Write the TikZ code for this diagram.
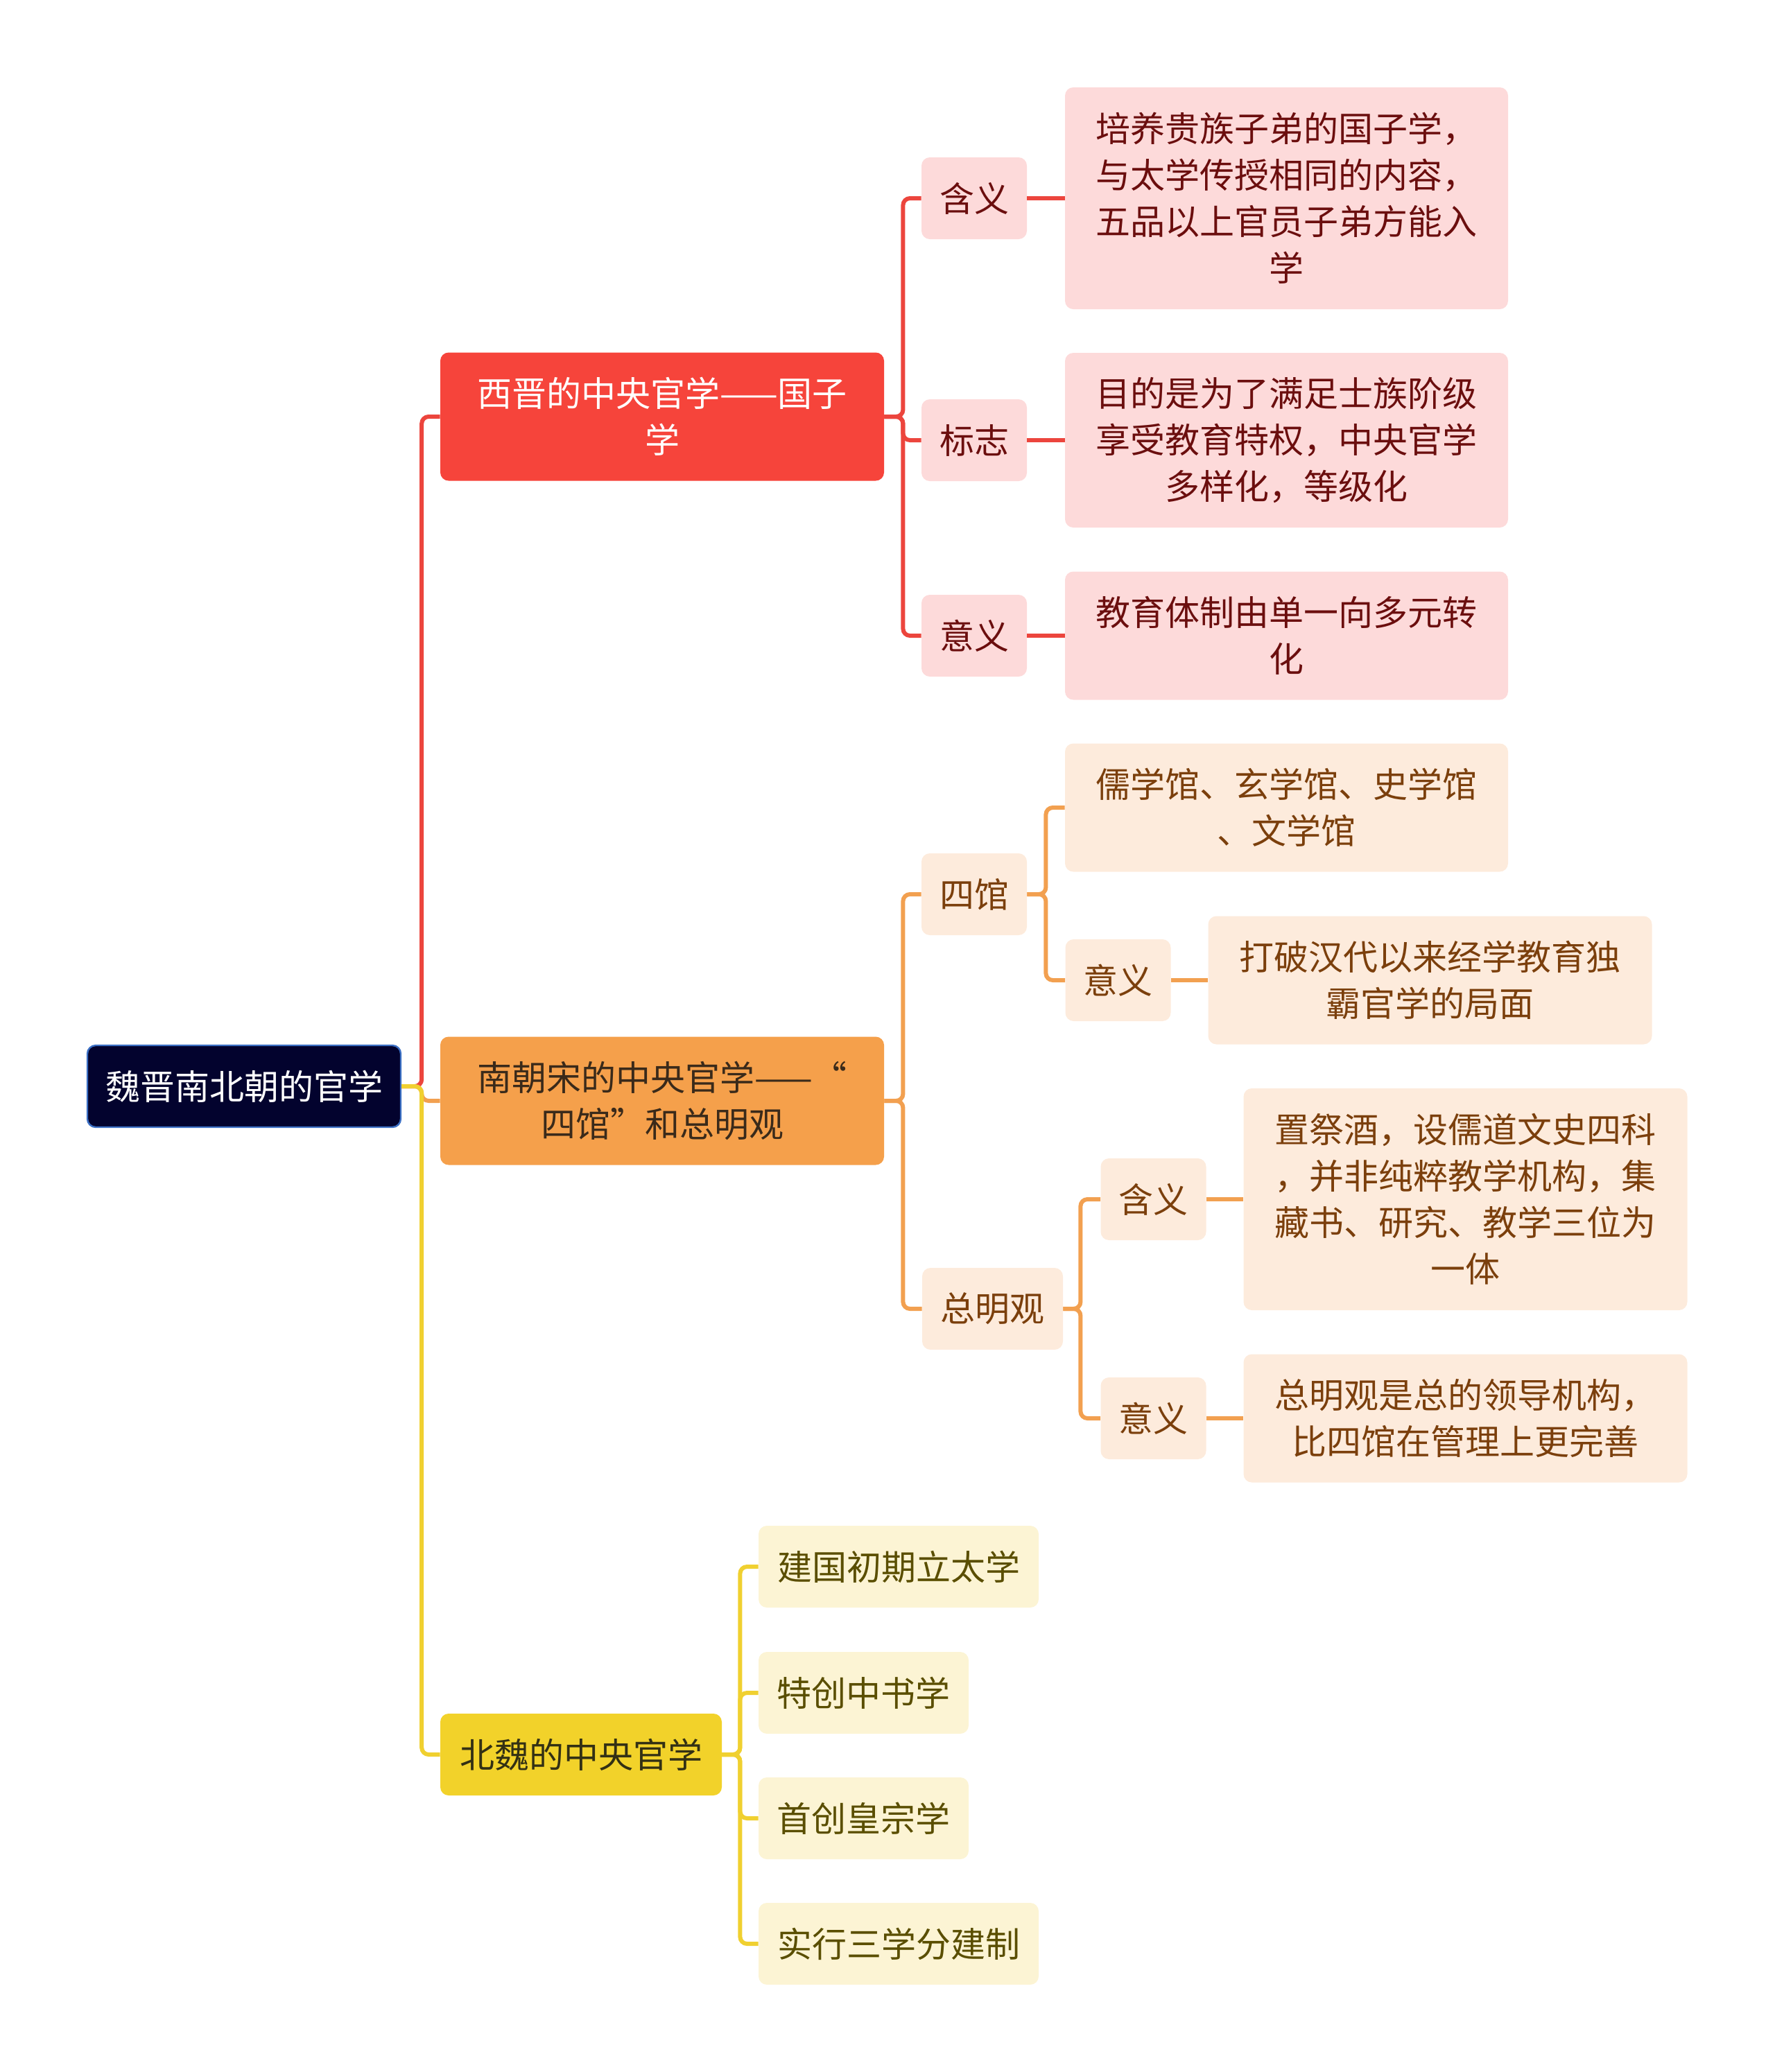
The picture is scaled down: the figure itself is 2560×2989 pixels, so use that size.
\documentclass[tikz,border=0pt]{standalone}
\usepackage{fontspec}
\newfontfamily\cjk{Noto Sans CJK SC}
\definecolor{RootFill}{HTML}{03032E}
\definecolor{RootEdge}{HTML}{3B6FC4}
\definecolor{XjMain}{HTML}{F6443B}
\definecolor{XjLine}{HTML}{EC453D}
\definecolor{XjLeaf}{HTML}{FDDADA}
\definecolor{XjText}{HTML}{6B0E0E}
\definecolor{NcMain}{HTML}{F5A04B}
\definecolor{NcLine}{HTML}{F2A050}
\definecolor{NcLeaf}{HTML}{FDEBDC}
\definecolor{NcText}{HTML}{7B3F0C}
\definecolor{NcDark}{HTML}{3A2A1A}
\definecolor{BwMain}{HTML}{F2D22A}
\definecolor{BwLine}{HTML}{F0D030}
\definecolor{BwLeaf}{HTML}{FCF4D4}
\definecolor{BwText}{HTML}{5A4E00}
\definecolor{BwDark}{HTML}{333014}

\begin{document}
\begin{tikzpicture}[x=0.5pt,y=-0.5pt,
  box/.style={rounded corners=6pt,align=center,inner sep=0pt,
    font={\cjk\fontsize{25}{33.5}\selectfont}},
  rootbox/.style={box,fill=RootFill,draw=RootEdge,line width=1.2pt,text=white,
    minimum width=226pt,minimum height=59pt},
  xjbox/.style={box,fill=XjLeaf,text=XjText},
  ncbox/.style={box,fill=NcLeaf,text=NcText},
  bwbox/.style={box,fill=BwLeaf,text=BwText},
  small/.style={minimum width=76pt,minimum height=59pt},
  xjline/.style={draw=XjLine,line width=3pt,rounded corners=5pt},
  ncline/.style={draw=NcLine,line width=3pt,rounded corners=5pt},
  bwline/.style={draw=BwLine,line width=3pt,rounded corners=5pt}]
\useasboundingbox (0,0) rectangle (2560,2989);

\node[rootbox] (root) at (352,1567) {魏晋南北朝的官学};

% 西晋
\node[box,fill=XjMain,text=white,minimum width=320pt,minimum height=92.5pt] (xijin) at (955,601) {西晋的中央官学——国子\\学};
\node[xjbox,small] (xjHanyi) at (1405,286) {含义};
\node[xjbox,small] (xjBiaozhi) at (1405,635) {标志};
\node[xjbox,small] (xjYiyi) at (1405,917) {意义};
\node[xjbox,minimum width=319.5pt,minimum height=160pt] (xjHanyiT) at (1855.5,286) {培养贵族子弟的国子学，\\与太学传授相同的内容，\\五品以上官员子弟方能入\\学};
\node[xjbox,minimum width=319.5pt,minimum height=126pt] (xjBiaozhiT) at (1855.5,635) {目的是为了满足士族阶级\\享受教育特权，中央官学\\多样化，等级化};
\node[xjbox,minimum width=319.5pt,minimum height=92.5pt] (xjYiyiT) at (1855.5,917) {教育体制由单一向多元转\\化};

% 南朝宋
\node[box,fill=NcMain,text=NcDark,minimum width=320pt,minimum height=92.5pt] (nanchao) at (955,1588) {南朝宋的中央官学——“\\四馆”和总明观};
\node[ncbox,small] (ncSiguan) at (1405,1290) {四馆};
\node[ncbox,minimum width=101.5pt,minimum height=59pt] (ncZmg) at (1431.5,1888) {总明观};
\node[ncbox,minimum width=319.5pt,minimum height=92.5pt] (ncSiguanT) at (1855.5,1165) {儒学馆、玄学馆、史学馆\\、文学馆};
\node[ncbox,small] (ncSgYiyi) at (1612.5,1414) {意义};
\node[ncbox,minimum width=320pt,minimum height=92.5pt] (ncSgYiyiT) at (2062.5,1414) {打破汉代以来经学教育独\\霸官学的局面};
\node[ncbox,small] (ncZmHanyi) at (1663.5,1730) {含义};
\node[ncbox,minimum width=320pt,minimum height=160pt] (ncZmHanyiT) at (2113.5,1730) {置祭酒，设儒道文史四科\\，并非纯粹教学机构，集\\藏书、研究、教学三位为\\一体};
\node[ncbox,small] (ncZmYiyi) at (1663.5,2046) {意义};
\node[ncbox,minimum width=320pt,minimum height=92.5pt] (ncZmYiyiT) at (2113.5,2046) {总明观是总的领导机构，\\比四馆在管理上更完善};

% 北魏
\node[box,fill=BwMain,text=BwDark,minimum width=203pt,minimum height=59pt] (beiwei) at (838,2531) {北魏的中央官学};
\node[bwbox,minimum width=202pt,minimum height=59pt] (bwTaixue) at (1296,2260) {建国初期立太学};
\node[bwbox,minimum width=151.5pt,minimum height=59pt] (bwZhongshu) at (1245.5,2442) {特创中书学};
\node[bwbox,minimum width=151.5pt,minimum height=59pt] (bwHuangzong) at (1245.5,2623) {首创皇宗学};
\node[bwbox,minimum width=202pt,minimum height=59pt] (bwSanxue) at (1296,2804) {实行三学分建制};

\draw[xjline] (root.east) -- ++(29,0) |- (xijin.west);
\draw[ncline] (root.east) -- ++(29,0) |- (nanchao.west);
\draw[bwline] (root.east) -- ++(29,0) |- (beiwei.west);

\foreach \c in {xjHanyi,xjBiaozhi,xjYiyi}
  \draw[xjline] (xijin.east) -- ++(27,0) |- (\c.west);
\draw[xjline] (xjHanyi.east) -- (xjHanyiT.west);
\draw[xjline] (xjBiaozhi.east) -- (xjBiaozhiT.west);
\draw[xjline] (xjYiyi.east) -- (xjYiyiT.west);

\foreach \c in {ncSiguan,ncZmg}
  \draw[ncline] (nanchao.east) -- ++(27,0) |- (\c.west);
\foreach \c in {ncSiguanT,ncSgYiyi}
  \draw[ncline] (ncSiguan.east) -- ++(27,0) |- (\c.west);
\draw[ncline] (ncSgYiyi.east) -- (ncSgYiyiT.west);
\foreach \c in {ncZmHanyi,ncZmYiyi}
  \draw[ncline] (ncZmg.east) -- ++(25,0) |- (\c.west);
\draw[ncline] (ncZmHanyi.east) -- (ncZmHanyiT.west);
\draw[ncline] (ncZmYiyi.east) -- (ncZmYiyiT.west);

\foreach \c in {bwTaixue,bwZhongshu,bwHuangzong,bwSanxue}
  \draw[bwline] (beiwei.east) -- ++(26,0) |- (\c.west);
\end{tikzpicture}
\end{document}
